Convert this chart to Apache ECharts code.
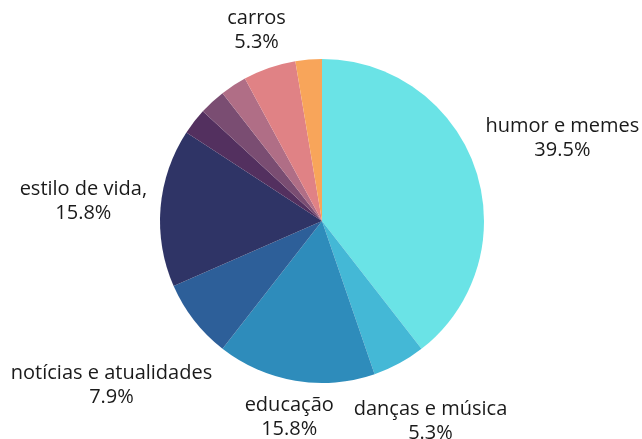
<!DOCTYPE html>
<html>
<head>
<meta charset="utf-8">
<script src="https://cdn.jsdelivr.net/npm/echarts@6/dist/echarts.min.js"></script>
<style>
  html, body { margin: 0; padding: 0; background: #fff; }
  #chart { width: 642px; height: 439px; }
</style>
</head>
<body>
<div id="chart"></div>
<script>
// fatias no sentido horário a partir do topo (contagens de 38)
var categories = ['humor e memes', 'danças e música', 'educação', 'notícias e atualidades',
    'estilo de vida,', 'outros 1', 'outros 2', 'outros 3', 'carros', 'outros 4'];
var values = [15, 2, 6, 3, 6, 1, 1, 1, 2, 1];
var showLabel = [true, true, true, true, true, false, false, false, true, false];
var colors = ['#6ae3e6', '#44b8d6', '#2e8cbb', '#2d5f99', '#2f3466',
    '#53305f', '#7a4d72', '#b06e86', '#e08285', '#f8a55a'];

var CX = 322, CY = 221, R = 162;
var total = values.reduce(function(a, b) { return a + b; }, 0);

var chart = echarts.init(document.getElementById('chart'));

var data = categories.map(function(name, i) {
    return {
        name: name,
        value: values[i],
        itemStyle: { color: colors[i] },
        label: { show: showLabel[i] }
    };
});

var option = {
    backgroundColor: '#ffffff',
    animation: false,
    series: [{
        type: 'pie',
        center: [CX, CY],
        radius: [0, R],
        startAngle: 90,
        clockwise: true,
        avoidLabelOverlap: false,
        data: data,
        itemStyle: { borderWidth: 0 },
        label: {
            position: 'outside',
            color: '#1a1a1a',
            fontFamily: 'Open Sans',
            fontSize: 20,
            fontWeight: 500,
            lineHeight: 24,
            align: 'center',
            formatter: function(p) {
                return p.name + '\n' + p.percent.toFixed(1) + '%';
            }
        },
        labelLine: { show: false },
        // cada rótulo fica centrado na direção do meio da fatia, encostado no círculo
        labelLayout: function(params) {
            var i = params.dataIndex;
            var before = 0;
            for (var j = 0; j < i; j++) before += values[j];
            var mid = (before + values[i] / 2) / total * Math.PI * 2;
            var sx = Math.sin(mid), sy = -Math.cos(mid);
            var w = params.labelRect.width, h = params.labelRect.height;
            var d = R + 5 + (w / 2 + 7) * Math.abs(sx) + (h / 2) * Math.abs(sy);
            return {
                x: CX + d * sx,
                y: CY + d * sy,
                align: 'center',
                verticalAlign: 'middle'
            };
        }
    }]
};

chart.setOption(option);
</script>
</body>
</html>
